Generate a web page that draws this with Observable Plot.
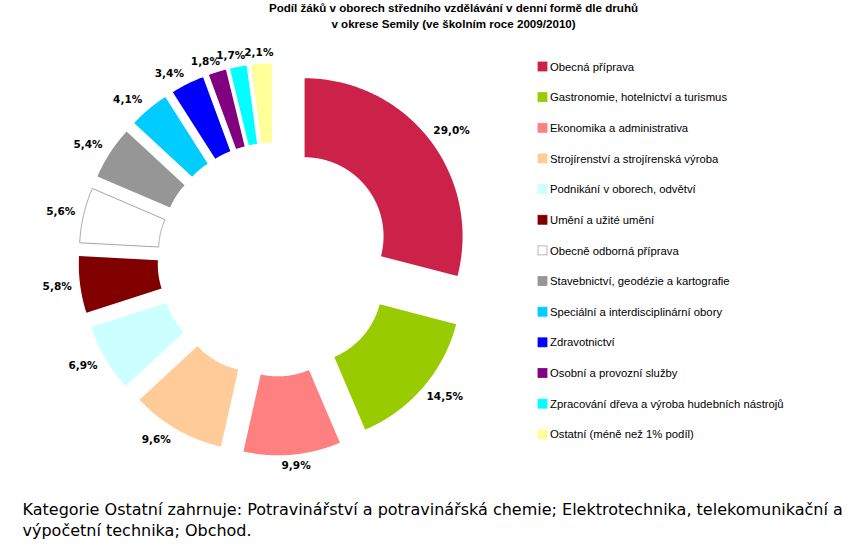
<!DOCTYPE html>
<html><head><meta charset="utf-8">
<script src="https://cdn.jsdelivr.net/npm/d3@7"></script>
<script src="https://cdn.jsdelivr.net/npm/@observablehq/plot@0.6"></script>
<style>body{margin:0;background:#fff} svg{display:block}</style>
</head><body><div id="chart"></div>
<script>
const categories = [
  "Obecná příprava",
  "Gastronomie, hotelnictví a turismus",
  "Ekonomika a administrativa",
  "Strojírenství a strojírenská výroba",
  "Podnikání v oborech, odvětví",
  "Umění a užité umění",
  "Obecně odborná příprava",
  "Stavebnictví, geodézie a kartografie",
  "Speciální a interdisciplinární obory",
  "Zdravotnictví",
  "Osobní a provozní služby",
  "Zpracování dřeva a výroba hudebních nástrojů",
  "Ostatní (méně než 1% podíl)"
];
const values = [29.0, 14.5, 9.9, 9.6, 6.9, 5.8, 5.6, 5.4, 4.1, 3.4, 1.8, 1.7, 2.1];
const colors = ["#cc2149", "#99cc00", "#ff8080", "#ffcc99", "#ccffff", "#800000", "#ffffff",
                "#969696", "#00ccff", "#0000ff", "#800080", "#00ffff", "#ffff99"];
const titleLines = [
  "Podíl žáků v oborech středního vzdělávání v denní formě dle druhů",
  "v okrese Semily (ve školním roce 2009/2010)"
];
const captionLines = [
  "Kategorie Ostatní zahrnuje: Potravinářství a potravinářská chemie; Elektrotechnika, telekomunikační a",
  "výpočetní technika; Obchod."
];

// layout
const W = 859, H = 547;
const cx = 274, cy = 259, R = 158, r0 = 79, explode = 38;
const FONT = "Liberation Sans, Arial, sans-serif";
const FONT2 = "DejaVu Sans, Verdana, sans-serif";

const total = d3.sum(values);
const fmt = v => v.toFixed(1).replace(".", ",") + "%";

let acc = 0;
const slices = values.map((v, i) => {
  const a0 = acc / total * 2 * Math.PI;
  acc += v;
  const a1 = acc / total * 2 * Math.PI;
  const am = (a0 + a1) / 2;
  const dx = Math.sin(am), dy = -Math.cos(am);
  return {i, cat: categories[i], v, a0, a1, am, dx, dy,
          ox: cx + explode * dx, oy: cy + explode * dy, color: colors[i]};
});

const pts = [];
for (const s of slices) {
  const n = Math.max(4, Math.ceil((s.a1 - s.a0) / (Math.PI / 360)));
  for (let k = 0; k <= n; k++) {
    const a = s.a0 + (s.a1 - s.a0) * k / n;
    pts.push({cat: s.cat, color: s.color, x: s.ox + R * Math.sin(a), y: s.oy - R * Math.cos(a)});
  }
  for (let k = n; k >= 0; k--) {
    const a = s.a0 + (s.a1 - s.a0) * k / n;
    pts.push({cat: s.cat, color: s.color, x: s.ox + r0 * Math.sin(a), y: s.oy - r0 * Math.cos(a)});
  }
}

const clamp = v => Math.max(-1, Math.min(1, v));
const lw = 36, lh = 12, gap = 5;
const labelData = slices.map(s => ({
  text: fmt(s.v),
  x: s.ox + (R + gap) * s.dx + lw / 2 * clamp(2 * s.dx),
  y: s.oy + (R + gap) * s.dy + lh / 2 * clamp(1.5 * s.dy)
}));

const legend = categories.map((c, i) => ({c, i, color: colors[i], yc: 66.5 + i * 30.65}));

const plot = Plot.plot({
  width: W, height: H,
  margin: 0,
  x: {domain: [0, W], range: [0, W], axis: null},
  y: {domain: [0, H], range: [0, H], axis: null},
  style: {fontFamily: FONT, background: "#fff"},
  marks: [
    Plot.line(pts, {x: "x", y: "y", z: "cat", fill: "color", stroke: null, curve: "linear-closed"}),
    Plot.line(pts.filter(p => p.color === "#ffffff"), {x: "x", y: "y", z: "cat", stroke: "#a6a6a6", strokeWidth: 1, curve: "linear-closed"}),
    Plot.text(labelData, {x: "x", y: "y", text: "text", fontWeight: "bold", fontSize: 10.5, fontFamily: FONT2, fill: "#000", textAnchor: "middle"}),
    Plot.rect(legend, {x1: () => 538, x2: () => 547, y1: d => d.yc - 4.5, y2: d => d.yc + 4.5, fill: "color",
      stroke: d => d.color === "#ffffff" ? "#a6a6a6" : d.color, strokeWidth: 0.8}),
    Plot.text(legend, {x: () => 549.5, y: "yc", text: "c", textAnchor: "start", fontSize: 11.3, fill: "#000"}),
    Plot.text(titleLines, {x: () => 453, y: (d, i) => 8 + i * 15.5, text: d => d, textAnchor: "middle", fontWeight: "bold", fontSize: 11.6, fill: "#000"}),
    Plot.text(captionLines, {x: () => 22, y: (d, i) => 509 + i * 21, text: d => d, textAnchor: "start", fontSize: 16, fontFamily: FONT2, fill: "#000"})
  ]
});
document.getElementById("chart").appendChild(plot);
</script>
</body></html>
